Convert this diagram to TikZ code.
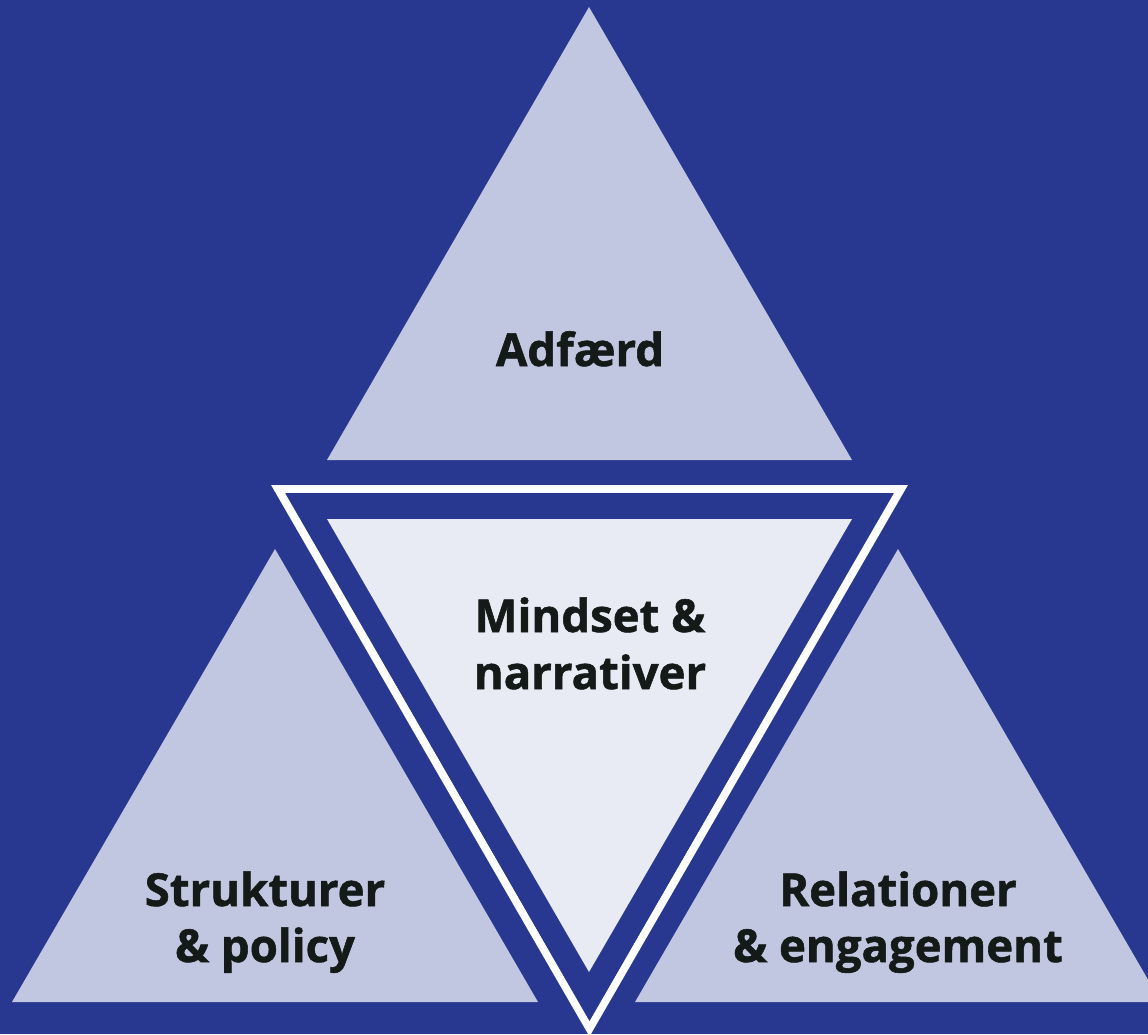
\documentclass[tikz,border=0pt]{standalone}
\usepackage{fontspec}
\setmainfont{Open Sans}[BoldFeatures={FakeBold=1.2}]
\definecolor{bg}{HTML}{283891}
\definecolor{lightfill}{HTML}{C2C7E1}
\definecolor{innerfill}{HTML}{E8EBF3}
\definecolor{ink}{HTML}{141A17}
\tikzset{
  tri/.style={fill=lightfill},
  lbl/.style={anchor=base, inner sep=0pt, text=ink, font=\fontsize{45.5}{57}\selectfont\bfseries}
}
\begin{document}
\begin{tikzpicture}[x=1pt,y=-1pt]
\useasboundingbox (0,0) rectangle (1148,1034);
\clip (0,0) rectangle (1148,1034);
\fill[bg] (0,0) rectangle (1148,1034);
% three outer triangles
\fill[tri] (589,7) -- (852,460) -- (327,460) -- cycle;
\fill[tri] (275,549) -- (538,1002) -- (12,1002) -- cycle;
\fill[tri] (898,549) -- (1161,1002) -- (635,1002) -- cycle;
% inverted centre triangle with white outline
\draw[white, line width=8pt, miter limit=10] (278,489) -- (901,489) -- (589.5,1028.5) -- cycle;
\fill[bg] (286,493) -- (893,493) -- (589.5,1021) -- cycle;
\fill[innerfill] (327,519) -- (852,519) -- (589,972) -- cycle;
% labels
\node[lbl] (a) at (580,366) {Adfærd};
\node[lbl] (m1) at (590,632) {Mindset \&};
\node[lbl] (m2) at (590,689) {narrativer};
\node[lbl] (s1) at (265,906) {Strukturer};
\node[lbl] (s2) at (265,962) {\& policy};
\node[lbl] (r1) at (898,906) {Relationer};
\node[lbl] (r2) at (898,962) {\& engagement};
\end{tikzpicture}
\end{document}
